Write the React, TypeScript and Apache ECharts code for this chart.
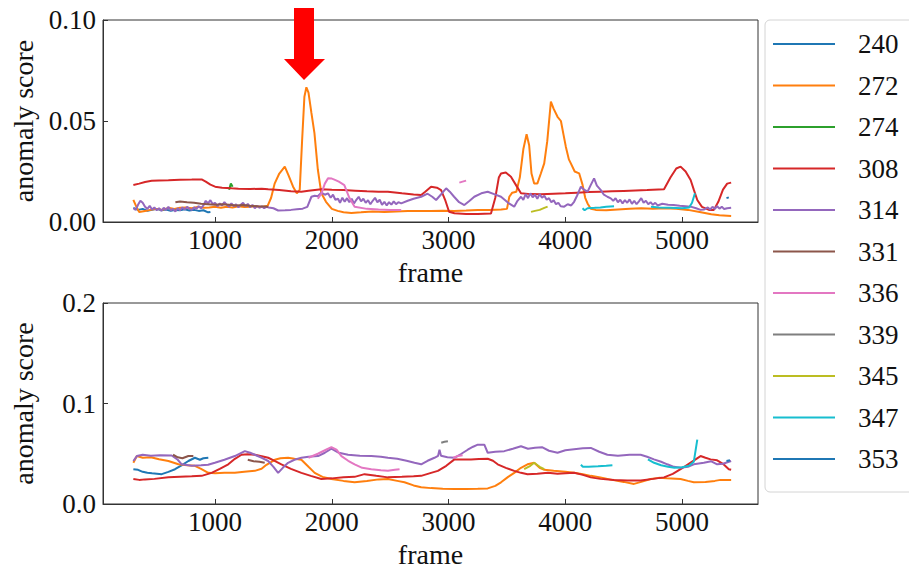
import React, { useEffect, useRef } from "react";
import * as echarts from "echarts";

type Pt = [number, number];

const names = ["240", "272", "274", "308", "314", "331", "336", "339", "345", "347", "353"];
const colors = ["#1f77b4", "#ff7f0e", "#2ca02c", "#d62728", "#9467bd", "#8c564b", "#e377c2", "#7f7f7f", "#bcbd22", "#17becf", "#1f77b4"];
const xTicks = [1000, 2000, 3000, 4000, 5000];

// ---------- top panel ----------
const top240: Pt[] = [[300,0.007],[340,0.006],[380,0.0065],[420,0.0055],[460,0.006],[500,0.0065],[540,0.0058],[580,0.0062],[620,0.0055],[660,0.006],[700,0.0058],[740,0.0063],[780,0.0057],[820,0.006],[860,0.0055],[900,0.0058],[940,0.0048],[960,0.005]];
const top272: Pt[] = [[300,0.011],[330,0.007],[350,0.005],[400,0.0055],[450,0.006],[500,0.0065],[550,0.006],[600,0.007],[650,0.0065],[700,0.007],[750,0.0072],[800,0.0068],[850,0.0075],[900,0.007],[950,0.0072],[1000,0.0075],[1050,0.007],[1100,0.0075],[1150,0.0072],[1200,0.0078],[1250,0.0074],[1300,0.0076],[1350,0.0078],[1400,0.0074],[1450,0.008],[1480,0.012],[1510,0.019],[1550,0.024],[1597,0.0274],[1630,0.023],[1668,0.0175],[1700,0.0142],[1725,0.016],[1745,0.04],[1765,0.062],[1782,0.0667],[1800,0.064],[1825,0.054],[1851,0.044],[1880,0.026],[1910,0.0142],[1950,0.01],[2000,0.0065],[2050,0.0055],[2100,0.0048],[2167,0.0045],[2250,0.0048],[2350,0.0052],[2450,0.005],[2550,0.0052],[2650,0.0055],[2750,0.0055],[2850,0.0054],[2950,0.0056],[3050,0.0055],[3150,0.0057],[3250,0.006],[3350,0.006],[3450,0.0062],[3500,0.0065],[3520,0.0125],[3545,0.0145],[3580,0.015],[3610,0.022],[3640,0.036],[3668,0.0434],[3690,0.038],[3710,0.024],[3733,0.0191],[3760,0.019],[3790,0.024],[3819,0.029],[3845,0.04],[3876,0.0596],[3900,0.056],[3933,0.0521],[3962,0.05],[3985,0.043],[4004,0.0373],[4030,0.031],[4047,0.029],[4080,0.025],[4118,0.0241],[4147,0.0185],[4170,0.012],[4190,0.0092],[4218,0.0066],[4260,0.006],[4350,0.0058],[4450,0.0062],[4550,0.0065],[4650,0.0068],[4750,0.0065],[4850,0.0068],[4950,0.0065],[5050,0.006],[5150,0.005],[5250,0.0038],[5320,0.0033],[5420,0.003]];
const top274: Pt[] = [[1120,0.016],[1135,0.019],[1150,0.0175]];
const top308: Pt[] = [[300,0.0183],[350,0.019],[400,0.0198],[457,0.0204],[520,0.0206],[600,0.0207],[700,0.0209],[800,0.021],[885,0.0211],[920,0.02],[960,0.0185],[1000,0.0175],[1060,0.017],[1141,0.0167],[1200,0.0165],[1300,0.0163],[1400,0.0165],[1455,0.0162],[1550,0.0158],[1650,0.0152],[1739,0.015],[1800,0.0155],[1910,0.0162],[2000,0.016],[2100,0.0158],[2200,0.0155],[2300,0.0152],[2400,0.015],[2480,0.015],[2600,0.0142],[2700,0.0136],[2765,0.0134],[2800,0.015],[2850,0.0175],[2900,0.017],[2936,0.0158],[2970,0.011],[3004,0.0051],[3050,0.0043],[3150,0.004],[3250,0.004],[3363,0.0042],[3400,0.012],[3430,0.022],[3449,0.024],[3490,0.0245],[3534,0.0224],[3580,0.018],[3620,0.0142],[3700,0.0138],[3791,0.0137],[3900,0.014],[4000,0.0142],[4100,0.0145],[4200,0.0148],[4300,0.015],[4400,0.0152],[4500,0.0154],[4600,0.0156],[4700,0.0158],[4845,0.0162],[4900,0.022],[4950,0.0265],[4987,0.0274],[5030,0.025],[5073,0.0208],[5100,0.016],[5130,0.0109],[5170,0.0075],[5230,0.006],[5272,0.006],[5310,0.01],[5350,0.016],[5386,0.019],[5420,0.0195]];
const top314: Pt[] = [[300,0.0068],[320,0.006],[340,0.0085],[360,0.0105],[380,0.0095],[400,0.0075],[420,0.0065],[440,0.008],[460,0.0062],[480,0.0072],[500,0.0058],[520,0.0068],[540,0.0055],[560,0.007],[580,0.006],[600,0.0075],[620,0.0058],[640,0.0065],[660,0.0052],[680,0.0068],[700,0.0058],[720,0.0072],[740,0.0062],[760,0.0075],[780,0.0065],[800,0.006],[820,0.0072],[840,0.0065],[860,0.0078],[880,0.0068],[900,0.0082],[920,0.0105],[940,0.0092],[960,0.0108],[980,0.0088],[1000,0.0095],[1020,0.0078],[1040,0.0092],[1060,0.0082],[1080,0.0098],[1100,0.0085],[1120,0.0075],[1140,0.0092],[1160,0.0078],[1180,0.0088],[1200,0.0072],[1220,0.0085],[1240,0.0095],[1260,0.0078],[1280,0.009],[1300,0.0072],[1320,0.0085],[1340,0.0068],[1360,0.008],[1380,0.007],[1400,0.0078],[1420,0.0068],[1440,0.0075],[1460,0.0072],[1500,0.0068],[1540,0.0057],[1600,0.0058],[1650,0.006],[1700,0.0063],[1750,0.0066],[1790,0.0075],[1825,0.0125],[1853,0.013],[1880,0.0128],[1910,0.0145],[1940,0.0135],[1967,0.0142],[1990,0.012],[2010,0.0135],[2030,0.011],[2053,0.0115],[2070,0.0095],[2090,0.012],[2110,0.01],[2130,0.0118],[2150,0.0098],[2170,0.0115],[2190,0.0092],[2210,0.011],[2230,0.0125],[2250,0.0102],[2270,0.0115],[2290,0.0095],[2310,0.0108],[2330,0.0088],[2350,0.0105],[2370,0.012],[2390,0.0098],[2410,0.011],[2430,0.0085],[2450,0.01],[2470,0.0082],[2490,0.0098],[2510,0.0086],[2530,0.0102],[2550,0.0088],[2570,0.0098],[2594,0.0092],[2650,0.0105],[2700,0.0115],[2765,0.0125],[2820,0.014],[2860,0.0125],[2893,0.0109],[2940,0.014],[2979,0.0167],[3010,0.015],[3047,0.0125],[3090,0.0098],[3135,0.0084],[3180,0.0105],[3220,0.0125],[3280,0.0142],[3335,0.015],[3390,0.0138],[3449,0.0125],[3510,0.0095],[3562,0.0076],[3590,0.0105],[3620,0.0125],[3640,0.011],[3660,0.0138],[3680,0.0118],[3700,0.0142],[3720,0.0122],[3740,0.0135],[3760,0.0115],[3780,0.0138],[3800,0.012],[3820,0.013],[3840,0.011],[3860,0.0118],[3880,0.0098],[3900,0.0108],[3920,0.0088],[3940,0.0095],[3960,0.0078],[3990,0.0076],[4020,0.0088],[4050,0.0082],[4075,0.01],[4100,0.013],[4133,0.0175],[4160,0.016],[4190,0.015],[4215,0.018],[4246,0.0216],[4270,0.018],[4304,0.0158],[4330,0.0135],[4360,0.0125],[4389,0.0117],[4410,0.0105],[4430,0.0118],[4450,0.0098],[4470,0.011],[4490,0.0092],[4510,0.0108],[4530,0.0095],[4550,0.0112],[4570,0.009],[4590,0.0105],[4610,0.0088],[4630,0.0102],[4650,0.0118],[4670,0.0095],[4690,0.0105],[4710,0.0088],[4730,0.0098],[4750,0.0085],[4770,0.0095],[4790,0.0082],[4830,0.009],[4880,0.0085],[4927,0.0084],[4980,0.008],[5030,0.0078],[5073,0.0076],[5120,0.0068],[5158,0.006],[5190,0.0062],[5220,0.0072],[5240,0.0062],[5260,0.0075],[5280,0.0065],[5300,0.0078],[5320,0.0066],[5340,0.0076],[5360,0.0064],[5386,0.0068],[5420,0.007]];
const top331: Pt[] = [[660,0.0098],[700,0.0102],[760,0.0098],[820,0.0095],[880,0.009],[940,0.0088],[1000,0.0085],[1060,0.0088],[1120,0.0085],[1180,0.0082],[1240,0.0084],[1300,0.008],[1360,0.0078],[1420,0.0077],[1455,0.0076]];
const top336a: Pt[] = [[1880,0.0115],[1910,0.014],[1940,0.019],[1967,0.0216],[2000,0.0215],[2022,0.021],[2060,0.02],[2107,0.0183],[2150,0.012],[2195,0.0076],[2300,0.0065],[2400,0.0062],[2500,0.006],[2594,0.006]];
const top336b: Pt[] = [[3092,0.0195],[3120,0.02],[3150,0.0205]];
const top345: Pt[] = [[3706,0.005],[3740,0.0055],[3780,0.006],[3820,0.007],[3848,0.0076]];
const top347a: Pt[] = [[4147,0.0068],[4165,0.0058],[4190,0.0068],[4250,0.007],[4300,0.0072],[4350,0.0075],[4417,0.0078]];
const top347b: Pt[] = [[4733,0.0075],[4800,0.0072],[4900,0.007],[5000,0.0068],[5060,0.0072],[5085,0.0095],[5110,0.0142]];
const top353: Pt[] = [[5380,0.0118],[5400,0.0122]];

// ---------- bottom panel ----------
const bot240: Pt[] = [[300,0.0346],[340,0.034],[380,0.032],[420,0.031],[460,0.0305],[543,0.0297],[600,0.032],[657,0.0346],[720,0.039],[771,0.0428],[827,0.046],[870,0.044],[900,0.0455],[942,0.046]];
const bot272: Pt[] = [[300,0.041],[330,0.0477],[380,0.046],[450,0.0465],[520,0.0445],[600,0.0428],[686,0.0395],[760,0.0385],[827,0.038],[880,0.035],[942,0.031],[1000,0.0305],[1080,0.031],[1169,0.031],[1250,0.032],[1340,0.033],[1398,0.035],[1440,0.039],[1511,0.044],[1560,0.0455],[1625,0.046],[1680,0.045],[1739,0.044],[1800,0.037],[1853,0.031],[1920,0.027],[1996,0.0248],[2100,0.023],[2195,0.0216],[2300,0.023],[2400,0.0245],[2480,0.0248],[2560,0.023],[2622,0.0216],[2700,0.0185],[2765,0.0167],[2850,0.0158],[2950,0.0152],[3050,0.015],[3150,0.015],[3250,0.0152],[3335,0.0155],[3400,0.018],[3449,0.0216],[3510,0.027],[3562,0.031],[3620,0.036],[3676,0.0395],[3733,0.041],[3780,0.036],[3820,0.034],[3900,0.033],[4000,0.032],[4075,0.031],[4150,0.0295],[4218,0.028],[4300,0.0265],[4400,0.024],[4500,0.022],[4588,0.02],[4650,0.022],[4731,0.0248],[4800,0.026],[4870,0.0255],[4987,0.0248],[5050,0.023],[5100,0.0216],[5200,0.022],[5280,0.023],[5329,0.024],[5420,0.024]];
const bot308: Pt[] = [[300,0.0248],[350,0.024],[400,0.0245],[480,0.025],[600,0.0265],[700,0.027],[800,0.0275],[885,0.028],[970,0.031],[1040,0.035],[1113,0.0395],[1170,0.045],[1226,0.049],[1280,0.0495],[1340,0.049],[1400,0.0475],[1455,0.046],[1510,0.043],[1568,0.0395],[1650,0.035],[1739,0.031],[1820,0.028],[1910,0.0248],[2000,0.0255],[2100,0.0265],[2195,0.027],[2280,0.0297],[2380,0.028],[2480,0.0265],[2600,0.027],[2700,0.0275],[2765,0.028],[2850,0.031],[2908,0.033],[2980,0.038],[3050,0.0444],[3120,0.0444],[3192,0.0444],[3260,0.0448],[3335,0.045],[3380,0.043],[3420,0.0395],[3490,0.036],[3562,0.033],[3620,0.031],[3676,0.0297],[3760,0.03],[3850,0.031],[3933,0.03],[4000,0.0305],[4075,0.031],[4150,0.029],[4218,0.0265],[4300,0.025],[4417,0.024],[4530,0.0235],[4645,0.0235],[4750,0.025],[4845,0.0265],[4920,0.03],[4987,0.0346],[5070,0.041],[5158,0.0477],[5200,0.046],[5244,0.0444],[5300,0.0435],[5350,0.04],[5400,0.0346],[5420,0.034]];
const bot314: Pt[] = [[300,0.0428],[330,0.0477],[380,0.049],[450,0.048],[530,0.0485],[628,0.0483],[680,0.044],[714,0.0395],[800,0.038],[880,0.0385],[940,0.039],[998,0.041],[1080,0.044],[1169,0.0477],[1255,0.0526],[1300,0.051],[1340,0.049],[1400,0.046],[1455,0.0428],[1500,0.037],[1540,0.031],[1580,0.036],[1625,0.041],[1680,0.044],[1739,0.046],[1800,0.047],[1882,0.0477],[1940,0.051],[1996,0.055],[2060,0.051],[2139,0.049],[2240,0.048],[2338,0.0477],[2420,0.047],[2480,0.046],[2560,0.045],[2640,0.043],[2708,0.041],[2765,0.0395],[2820,0.043],[2879,0.046],[2910,0.048],[2922,0.054],[2935,0.048],[2990,0.0465],[3050,0.046],[3110,0.05],[3164,0.054],[3210,0.057],[3250,0.059],[3306,0.059],[3335,0.051],[3400,0.052],[3477,0.0526],[3550,0.055],[3620,0.0575],[3680,0.055],[3740,0.056],[3800,0.0565],[3860,0.053],[3933,0.051],[4000,0.0535],[4075,0.0545],[4150,0.0555],[4218,0.0558],[4290,0.052],[4360,0.049],[4450,0.048],[4550,0.049],[4645,0.049],[4700,0.047],[4759,0.0444],[4820,0.042],[4873,0.0395],[4930,0.037],[4987,0.036],[5050,0.037],[5100,0.0395],[5186,0.041],[5250,0.0425],[5300,0.0395],[5350,0.04],[5420,0.0428]];
const bot331a: Pt[] = [[640,0.049],[680,0.0465],[720,0.0455],[771,0.0477],[814,0.0477]];
const bot331b: Pt[] = [[1280,0.044],[1330,0.0425],[1380,0.042],[1425,0.041]];
const bot336a: Pt[] = [[1800,0.046],[1880,0.05],[1950,0.054],[1996,0.0565],[2040,0.054],[2082,0.0477],[2140,0.043],[2195,0.0395],[2260,0.036],[2338,0.0346],[2420,0.0335],[2480,0.033],[2540,0.034],[2580,0.0346]];
const bot336b: Pt[] = [[3040,0.046],[3080,0.0477],[3120,0.0485]];
const bot339: Pt[] = [[2937,0.061],[2965,0.062],[2994,0.0625]];
const bot345: Pt[] = [[3647,0.0346],[3700,0.038],[3733,0.041],[3780,0.037],[3819,0.0346]];
const bot347a: Pt[] = [[4133,0.039],[4150,0.037],[4200,0.037],[4280,0.0375],[4350,0.038],[4403,0.0385]];
const bot347b: Pt[] = [[4707,0.0444],[4760,0.041],[4820,0.0385],[4880,0.037],[4934,0.036],[5000,0.0365],[5060,0.038],[5100,0.042],[5130,0.064]];
const bot353: Pt[] = [[5380,0.0428],[5410,0.0435]];

const topSegments: [string, Pt[]][] = [
  ["240", top240], ["272", top272], ["274", top274], ["308", top308], ["314", top314],
  ["331", top331], ["336", top336a], ["336", top336b], ["345", top345],
  ["347", top347a], ["347", top347b], ["353", top353],
];
const botSegments: [string, Pt[]][] = [
  ["240", bot240], ["272", bot272], ["308", bot308], ["314", bot314],
  ["331", bot331a], ["331", bot331b], ["336", bot336a], ["336", bot336b], ["339", bot339],
  ["345", bot345], ["347", bot347a], ["347", bot347b], ["353", bot353],
];

const FONT = '"Liberation Serif", "DejaVu Serif", serif';
const INK = "#111";
const FRAME = "#333";

function colorOf(n: string) {
  return colors[names.indexOf(n)];
}

export default function App() {
  const ref = useRef<HTMLDivElement>(null);
  useEffect(() => {
    if (!ref.current) return;
    const chart = echarts.init(ref.current, undefined, { renderer: "svg" });

    const mkSeries = (segs: [string, Pt[]][], idx: number) =>
      segs.map(([n, d]) => ({
        type: "line",
        name: n,
        xAxisIndex: idx,
        yAxisIndex: idx,
        data: d,
        symbol: "none",
        smooth: false,
        lineStyle: { width: 2, color: colorOf(n) },
        itemStyle: { color: colorOf(n) },
        emphasis: { disabled: true },
      }));

    const xAxisBase = (idx: number) => ({
      type: "value",
      gridIndex: idx,
      min: 40,
      max: 5650,
      name: "frame",
      nameLocation: "middle",
      nameGap: 36,
      nameTextStyle: { fontFamily: FONT, fontSize: 28, color: INK },
      axisLine: { show: true, lineStyle: { color: FRAME, width: 1 } },
      axisTick: { show: true, inside: true, length: 5, lineStyle: { color: FRAME }, customValues: xTicks },
      axisLabel: { fontFamily: FONT, fontSize: 27, color: INK, margin: 4, customValues: xTicks, formatter: (v: number) => String(v) },
      splitLine: { show: false },
    });

    const yAxisBase = (idx: number, max: number, interval: number, digits: number) => ({
      type: "value",
      gridIndex: idx,
      min: 0,
      max,
      interval,
      name: "anomaly score",
      nameLocation: "middle",
      nameGap: 66,
      nameTextStyle: { fontFamily: FONT, fontSize: 28, color: INK },
      axisLine: { show: true, lineStyle: { color: FRAME, width: 1 } },
      axisTick: { show: true, inside: true, length: 5, lineStyle: { color: FRAME } },
      axisLabel: { fontFamily: FONT, fontSize: 27, color: INK, margin: 7, formatter: (v: number) => v.toFixed(digits) },
      splitLine: { show: false },
    });

    chart.setOption({
      animation: false,
      backgroundColor: "#fff",
      grid: [
        { left: 103, top: 20, width: 655, height: 202, show: true, borderColor: FRAME, borderWidth: 1, backgroundColor: "transparent" },
        { left: 103, top: 303, width: 655, height: 204, show: true, borderColor: FRAME, borderWidth: 1, backgroundColor: "transparent" },
      ],
      xAxis: [xAxisBase(0), xAxisBase(1)],
      yAxis: [yAxisBase(0, 0.1, 0.05, 2), yAxisBase(1, 0.2, 0.1, 1)],
      legend: {
        data: names,
        orient: "vertical",
        left: 773,
        top: 29,
        padding: 0,
        icon: "rect",
        itemWidth: 62,
        itemHeight: 2,
        itemGap: 11.5,
        selectedMode: false,
        textStyle: { fontFamily: FONT, fontSize: 27, color: INK, lineHeight: 30, padding: [0, 0, 0, 18] },
      },
      graphic: [
        {
          type: "rect",
          z: -1,
          shape: { x: 765, y: 20, width: 170, height: 472, r: 5 },
          style: { fill: "#fff", stroke: "#d4d4d4", lineWidth: 1 },
          silent: true,
        },
        {
          type: "polygon",
          z: 10,
          shape: { points: [[294, 8], [314, 8], [314, 59], [325, 59], [304, 80], [284, 59], [294, 59]] },
          style: { fill: "#ff0000" },
          silent: true,
        },
      ],
      series: [...mkSeries(topSegments, 0), ...mkSeries(botSegments, 1)],
    });
    return () => chart.dispose();
  }, []);
  return <div ref={ref} style={{ position: "fixed", left: 0, top: 0, width: 909, height: 569, background: "#fff" }} />;
}
